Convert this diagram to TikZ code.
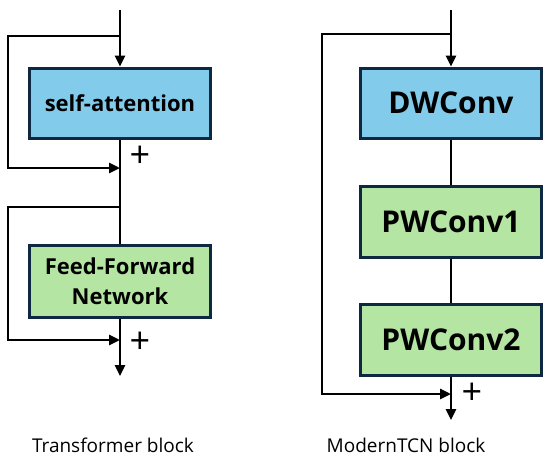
\documentclass[tikz,border=0pt]{standalone}
\usepackage{fontspec}
\setmainfont{Open Sans}
\usetikzlibrary{arrows.meta}
\definecolor{boxblue}{RGB}{131,203,235}
\definecolor{boxgreen}{RGB}{180,229,162}
\definecolor{boxedge}{RGB}{14,40,65}
\begin{document}
\begin{tikzpicture}[x=1pt,y=-1pt,
  block/.style={draw=boxedge, line width=3pt, minimum width=181pt, minimum height=70pt, inner sep=0pt, align=center},
  small/.style={font=\fontsize{22}{30}\selectfont\bfseries},
  big/.style={font=\fontsize{30}{32}\selectfont\bfseries},
  conn/.style={line width=2.6pt, draw=black},
  arr/.style={conn, -{Triangle[length=11pt,width=10pt]}},
  plus/.style={font=\fontsize{36}{36}\selectfont, inner sep=0pt},
  caption/.style={font=\fontsize{19}{21}\selectfont, inner sep=0pt}
]
\useasboundingbox (0,0) rectangle (550,459);
% Transformer block
\node[block, small, fill=boxblue] (sa) at (120,103) {self-attention};
\node[block, small, fill=boxgreen, minimum height=72pt] (ffn) at (120,281) {Feed-Forward\\Network};
\coordinate (ttop) at (120,10);
\coordinate (tb1) at (120,36);
\coordinate (tl1) at (8,36);
\coordinate (tj1) at (120,168);
\coordinate (tb2) at (120,207);
\coordinate (tl2) at (8,207);
\coordinate (tj2) at (120,340);
\coordinate (tout) at (120,376);
\draw[arr] (ttop) -- (sa.north);
\draw[arr] (tb1) -- (tl1) |- (tj1);
\draw[conn] (sa.south) -- (tj1) -- (tb2) -- (ffn.north);
\draw[arr] (tb2) -- (tl2) |- (tj2);
\draw[arr] (ffn.south) -- (tout);
\node[plus] (p1) at (140,157) {+};
\node[plus] (p2) at (140,343) {+};
\node[caption] (cap1) at (113,445) {Transformer block};
% ModernTCN block
\node[block, big, fill=boxblue] (dw) at (451,103) {DWConv};
\node[block, big, fill=boxgreen, minimum height=71pt] (pw1) at (451,221.5) {PWConv1};
\node[block, big, fill=boxgreen, minimum height=71pt] (pw2) at (451,339.5) {PWConv2};
\coordinate (rtop) at (451,10);
\coordinate (rb) at (451,34);
\coordinate (rl) at (322,34);
\coordinate (rj) at (451,394);
\coordinate (rout) at (451,420);
\draw[arr] (rtop) -- (dw.north);
\draw[conn] (dw.south) -- (pw1.north);
\draw[conn] (pw1.south) -- (pw2.north);
\draw[arr] (rb) -- (rl) |- (rj);
\draw[arr] (pw2.south) -- (rout);
\node[plus] (p3) at (472,394) {+};
\node[caption] (cap2) at (406,445) {ModernTCN block};
\end{tikzpicture}
\end{document}
